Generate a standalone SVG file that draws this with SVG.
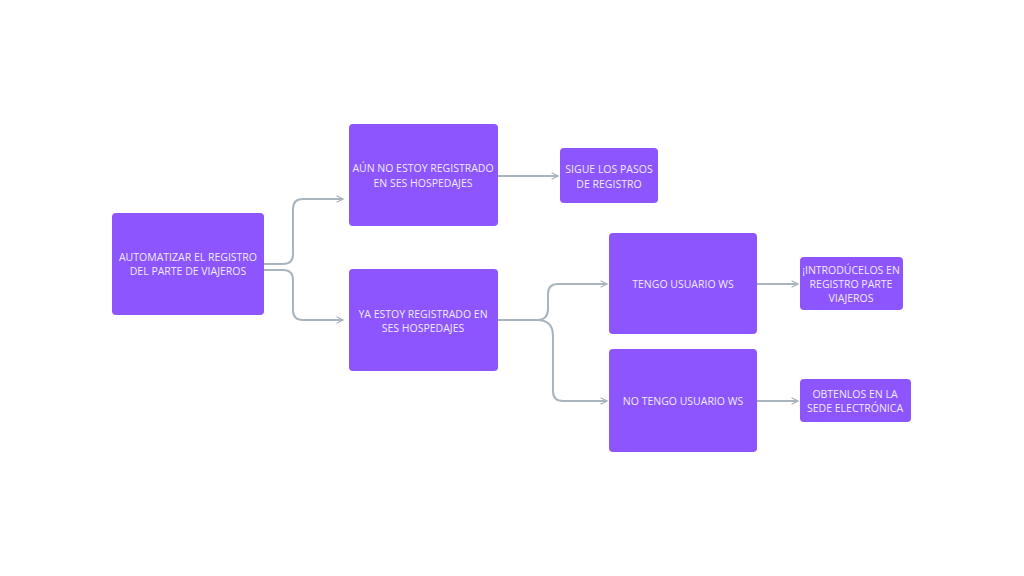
<svg xmlns="http://www.w3.org/2000/svg" width="1024" height="576" viewBox="0 0 1024 576">
<defs>
<marker id="arr" viewBox="0 0 10 10" refX="9" refY="5" markerWidth="8" markerHeight="8" markerUnits="userSpaceOnUse" orient="auto">
<path d="M1,1 L9,5 L1,9" fill="none" stroke="#a9b4bc" stroke-width="1.6"/>
</marker>
<style>
.n{fill:#8c55fe;}
.t{font-family:"Open Sans","Liberation Sans",sans-serif;font-size:10.5px;fill:#f1e8ff;text-anchor:middle;}
.c{fill:none;stroke:#a9b4bc;stroke-width:2;marker-end:url(#arr);}
</style>
</defs>
<rect width="1024" height="576" fill="#ffffff"/>
<g id="connectors">
<path class="c" d="M264,264 H283 Q293,264 293,254 V209 Q293,199 303,199 H343"/>
<path class="c" d="M264,270 H283 Q293,270 293,280 V310 Q293,320 303,320 H343"/>
<path class="c" d="M498,176 H558"/>
<path class="c" d="M498,320 H537 Q548,320 548,309 V294 Q548,284 558,284 H607"/>
<path class="c" d="M498,320 H537 Q553,320 553,336 V391 Q553,401 563,401 H607"/>
<path class="c" d="M757,284 H798"/>
<path class="c" d="M757,401 H798"/>
</g>
<g id="n1"><rect class="n" x="112" y="213" width="152" height="102" rx="4"/>
<text class="t" x="188" y="261">AUTOMATIZAR EL REGISTRO</text><text class="t" x="188" y="275">DEL PARTE DE VIAJEROS</text></g>
<g id="n2"><rect class="n" x="349" y="124" width="149" height="102" rx="4"/>
<text class="t" x="423" y="172">AÚN NO ESTOY REGISTRADO</text><text class="t" x="423" y="187">EN SES HOSPEDAJES</text></g>
<g id="n3"><rect class="n" x="560" y="148" width="98" height="55" rx="4"/>
<text class="t" x="609" y="173">SIGUE LOS PASOS</text><text class="t" x="609" y="188">DE REGISTRO</text></g>
<g id="n4"><rect class="n" x="349" y="269" width="149" height="102" rx="4"/>
<text class="t" x="423" y="318">YA ESTOY REGISTRADO EN</text><text class="t" x="423" y="332">SES HOSPEDAJES</text></g>
<g id="n5"><rect class="n" x="609" y="233" width="148" height="101" rx="4"/>
<text class="t" x="683" y="288">TENGO USUARIO WS</text></g>
<g id="n6"><rect class="n" x="609" y="349" width="148" height="103" rx="4"/>
<text class="t" x="683" y="405">NO TENGO USUARIO WS</text></g>
<g id="n7"><rect class="n" x="800" y="257" width="103" height="53" rx="4"/>
<text class="t" x="851" y="274">¡INTRODÚCELOS EN</text><text class="t" x="851" y="288">REGISTRO PARTE</text><text class="t" x="851" y="302">VIAJEROS</text></g>
<g id="n8"><rect class="n" x="800" y="379" width="111" height="43" rx="4"/>
<text class="t" x="855" y="398">OBTENLOS EN LA</text><text class="t" x="855" y="412">SEDE ELECTRÓNICA</text></g>
</svg>
